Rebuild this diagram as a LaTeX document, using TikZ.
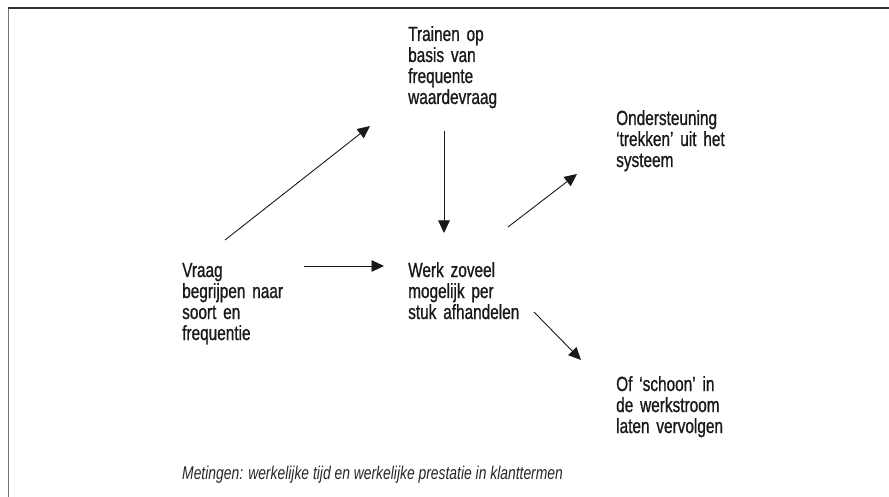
\documentclass[tikz,border=0pt]{standalone}
\usepackage{fontspec}
\setmainfont{Liberation Sans}[FakeStretch=0.75,FakeBold=0.9]
\newfontfamily\notefont{Liberation Sans}[FakeStretch=0.75]
\usetikzlibrary{arrows.meta}
\begin{document}
\begin{tikzpicture}[x=1pt,y=-1pt,
  lbl/.style={anchor=base west, inner sep=0pt, align=left, text width=200pt,
              font=\fontsize{20.5}{21}\selectfont, text=black!90},
  note/.style={anchor=base west, inner sep=0pt, font=\notefont\fontsize{18.5}{20}\selectfont\itshape, text=black!85},
  arr/.style={-{Triangle[length=12.5pt,width=11.5pt]}, line width=0.9pt, black!90}]
\useasboundingbox (0,0) rectangle (889,497);
% open frame
\draw[line width=1.5pt, color=black!55] (8.5,497) -- (8.5,8);
\draw[line width=1.5pt, color=black!80] (7.75,8) -- (889,8);
% text blocks
\node[lbl] (train) at (408,41) {Trainen op\\basis van\\frequente\\waardevraag};
\node[lbl] (werk) at (408,277) {Werk zoveel\\mogelijk per\\stuk afhandelen};
\node[lbl] (vraag) at (182,277) {Vraag\\begrijpen naar\\soort en\\frequentie};
\node[lbl] (onder) at (616,125) {Ondersteuning\\‘trekken’ uit het\\systeem};
\node[lbl] (schoon) at (616,391) {Of ‘schoon’ in\\de werkstroom\\laten vervolgen};
\node[note] (meting) at (182,479) {Metingen: werkelijke tijd en werkelijke prestatie in klanttermen};
% arrow end points
\coordinate (vraagA) at (225,240);
\coordinate (trainA) at (370,126);
\coordinate (trainB) at (444,131);
\coordinate (werkA) at (444,233);
\coordinate (vraagB) at (304,266);
\coordinate (werkB) at (384,266);
\coordinate (werkC) at (508,227);
\coordinate (onderA) at (577,174);
\coordinate (werkD) at (534,312);
\coordinate (schoonA) at (581,360);
% connectors
\draw[arr] (vraagA) -- (trainA);
\draw[arr] (trainB) -- (werkA);
\draw[arr] (vraagB) -- (werkB);
\draw[arr] (werkC) -- (onderA);
\draw[arr] (werkD) -- (schoonA);
\end{tikzpicture}
\end{document}
